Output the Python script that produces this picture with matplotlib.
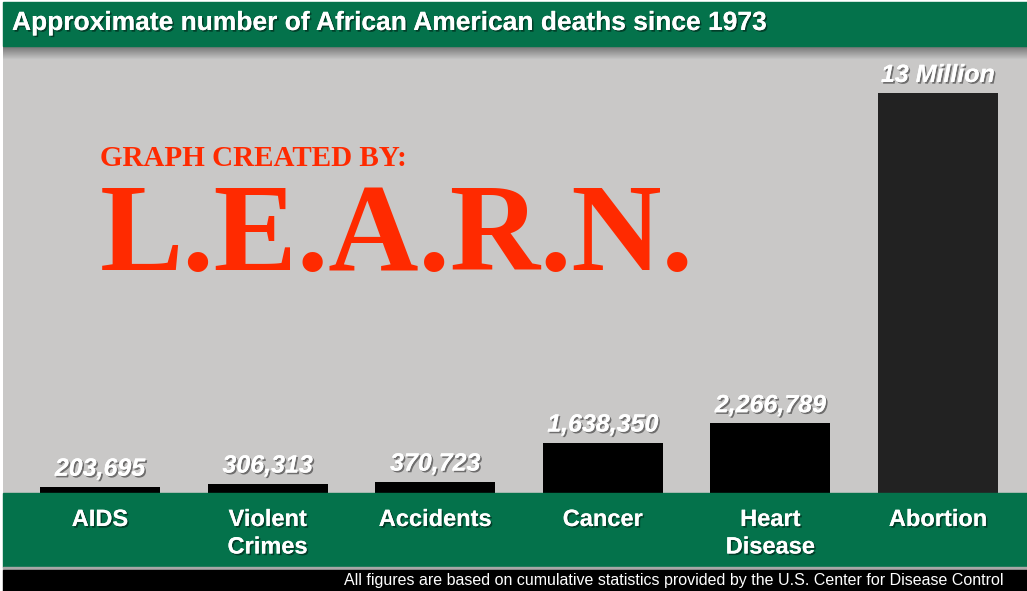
import matplotlib
matplotlib.use("Agg")
import matplotlib.pyplot as plt
import matplotlib.patheffects as pe
from matplotlib.patches import Rectangle
import numpy as np

categories = ["AIDS", "Violent\nCrimes", "Accidents", "Cancer", "Heart\nDisease", "Abortion"]
deaths = [203695, 306313, 370723, 1638350, 2266789, 13000000]
value_labels = ["203,695", "306,313", "370,723", "1,638,350", "2,266,789", "13 Million"]
bar_colors = ["#000000", "#000000", "#000000", "#000000", "#000000", "#222222"]

W, H = 1027, 591
GREEN = "#04724b"
GRAY = "#c9c8c7"

fig = plt.figure(figsize=(W / 100, H / 100), dpi=100, facecolor="white")

def fx(px):
    return px / W

def fy(py):
    # py measured from top of picture
    return 1 - py / H

# title bar, label band and footer
fig.patches.append(Rectangle((fx(3), fy(46)), 1, 44 / H, transform=fig.transFigure,
                             color=GREEN, zorder=0))
fig.patches.append(Rectangle((fx(3), fy(567)), 1, 74 / H, transform=fig.transFigure,
                             color=GREEN, zorder=0))
fig.patches.append(Rectangle((fx(3), fy(570)), 1, 3 / H, transform=fig.transFigure,
                             color="#a8a8a8", zorder=0))
fig.patches.append(Rectangle((fx(3), 0), 1, 21 / H, transform=fig.transFigure,
                             color="black", zorder=0))

ax = fig.add_axes([fx(3), fy(493), 1 - fx(3), (493 - 46) / H])
ax.set_facecolor(GRAY)

# soft shadow under the title bar
grad = np.linspace(0.45, 0.79, 50).reshape(-1, 1)
ax.imshow(grad, cmap="gray", vmin=0, vmax=1, aspect="auto",
          extent=(0, 1, 1 - 14 / 447, 1), transform=ax.transAxes, zorder=0.5)

x = np.arange(len(categories))
step = 167.6
ax.bar(x, deaths, width=120 / step, color=bar_colors, zorder=2)
ax.set_xlim(-(100 - 3) / step, 5 + (1027 - 938) / step)
ax.set_ylim(0, 13000000 * 447 / 400)
for s in ax.spines.values():
    s.set_visible(False)
ax.set_xticks([])
ax.set_yticks([])

shadow = [pe.withSimplePatchShadow(offset=(1.2, -1.2), shadow_rgbFace="black", alpha=0.45), pe.Normal()]

for xi, v, lab in zip(x, deaths, value_labels):
    ax.annotate(lab, (xi, v), xytext=(0, 6), textcoords="offset pixels",
                ha="center", va="bottom", color="white", fontsize=18,
                fontweight="bold", fontstyle="italic", family="Liberation Sans",
                path_effects=shadow, zorder=3)

# category labels in the green band
for xi, cat in zip(x, categories):
    px = 100 + xi * step
    fig.text(fx(px), fy(508), cat, ha="center", va="top", color="white",
             fontsize=17, fontweight="bold", family="Liberation Sans",
             linespacing=1.25, path_effects=shadow)

fig.text(fx(12), fy(23), "Approximate number of African American deaths since 1973",
         ha="left", va="center", color="white", fontsize=19, fontweight="bold",
         family="Liberation Sans", path_effects=shadow)

fig.text(fx(344), fy(581),
         "All figures are based on cumulative statistics provided by the U.S. Center for Disease Control",
         ha="left", va="center", color="white", fontsize=11.5, family="Liberation Sans")

# watermark
fig.text(fx(100), fy(166), "GRAPH CREATED BY:", ha="left", va="baseline",
         color="#ff2a00", fontsize=21, fontweight="bold", family="Liberation Serif")
fig.text(fx(100), fy(270), "L.E.A.R.N.", ha="left", va="baseline",
         color="#ff2a00", fontsize=90, fontweight="bold", family="Liberation Serif")

fig.savefig("out.png", dpi=100, facecolor="white")
